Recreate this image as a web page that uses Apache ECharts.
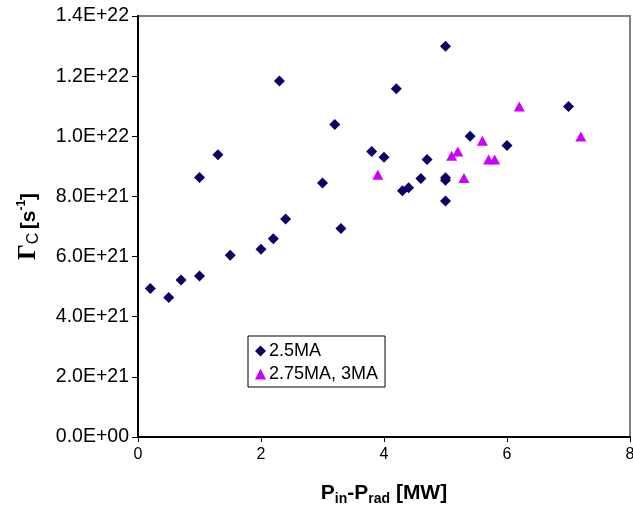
<!DOCTYPE html>
<html><head><meta charset="utf-8">
<script src="https://cdn.jsdelivr.net/npm/echarts@6/dist/echarts.min.js"></script>
<style>html,body{margin:0;padding:0;background:#fff}#c{width:633px;height:505px}</style>
</head><body><div id="c"></div>
<script>
// Series 1: 2.5MA
const s1X = [0.2, 0.5, 0.7, 1.0, 1.5, 2.0, 2.2, 2.4, 2.3, 1.0, 1.3, 3.0, 3.3, 3.2, 3.8, 4.0, 4.2, 5.0, 4.3, 4.4, 4.6, 4.7, 5.0, 5.0, 5.0, 5.4, 6.0, 7.0];
const s1Y = [4.94e21, 4.64e21, 5.22e21, 5.35e21, 6.04e21, 6.24e21, 6.59e21, 7.25e21, 11.84e21, 8.63e21, 9.39e21, 8.45e21, 6.93e21, 10.39e21, 9.49e21, 9.30e21, 11.58e21, 12.99e21, 8.19e21, 8.29e21, 8.60e21, 9.23e21, 8.62e21, 8.54e21, 7.85e21, 10.0e21, 9.69e21, 10.99e21];
// Series 2: 2.75MA, 3MA
const s2X = [3.9, 5.1, 5.2, 5.3, 5.6, 5.7, 5.8, 6.2, 7.2];
const s2Y = [8.72e21, 9.35e21, 9.49e21, 8.61e21, 9.85e21, 9.23e21, 9.23e21, 10.99e21, 9.99e21];
const seriesNames = ['2.5MA', '2.75MA, 3MA'];
const xTicks = [0, 2, 4, 6, 8];
const yMax = 1.4e22, yStep = 2e21;

function sci(v) {
  if (v === 0) return '0.0E+00';
  const e = Math.floor(Math.log10(Math.abs(v)) + 1e-9);
  const m = v / Math.pow(10, e);
  return m.toFixed(1) + 'E' + (e >= 0 ? '+' : '-') + String(Math.abs(e)).padStart(2, '0');
}
const zip = (a, b) => a.map((x, i) => [x, b[i]]);

const chart = echarts.init(document.getElementById('c'), null, {renderer: 'canvas'});
chart.setOption({
  animation: false,
  backgroundColor: '#fff',
  grid: {left: 138, top: 16, right: 3, bottom: 68, show: true, borderColor: '#808080', borderWidth: 2, backgroundColor: '#fff', containLabel: false, outerBoundsMode: 'none'},
  xAxis: {
    type: 'value', min: xTicks[0], max: xTicks[xTicks.length - 1], interval: 2,
    splitLine: {show: false},
    axisLine: {show: true, onZero: false, lineStyle: {color: '#000', width: 2}},
    axisTick: {show: true, inside: false, length: 5, lineStyle: {color: '#000', width: 1}},
    axisLabel: {color: '#000', fontSize: 16, fontFamily: 'Liberation Sans, Arial', margin: 10},
    name: '{b|P}{s|in}{b|-P}{s|rad}{b| [MW]}',
    nameLocation: 'middle', nameGap: 43,
    nameTextStyle: {
      rich: {
        b: {fontSize: 21, fontWeight: 'bold', fontFamily: 'Liberation Sans, Arial', color: '#000', lineHeight: 26, verticalAlign: 'middle'},
        s: {fontSize: 14, fontWeight: 'bold', fontFamily: 'Liberation Sans, Arial', color: '#000', lineHeight: 26, verticalAlign: 'bottom'}
      }
    }
  },
  yAxis: {
    type: 'value', min: 0, max: yMax, interval: yStep,
    splitLine: {show: false},
    axisLine: {show: true, onZero: false, lineStyle: {color: '#000', width: 2}},
    axisTick: {show: true, inside: false, length: 6, lineStyle: {color: '#000', width: 1}},
    axisLabel: {color: '#000', fontSize: 19.5, fontFamily: 'Liberation Sans, Arial', margin: 9, formatter: sci},
    name: '{g|Γ}{s|C} {b|[s}{p|-1}{b|]}',
    nameLocation: 'middle', nameRotate: 90, nameGap: 96,
    nameTextStyle: {
      rich: {
        g: {fontSize: 25, fontWeight: 'bold', fontFamily: 'Liberation Serif, Times New Roman', color: '#000', lineHeight: 26, verticalAlign: 'middle'},
        s: {fontSize: 16, fontFamily: 'Liberation Sans, Arial', color: '#000', lineHeight: 26, verticalAlign: 'bottom'},
        b: {fontSize: 21, fontWeight: 'bold', fontFamily: 'Liberation Sans, Arial', color: '#000', lineHeight: 26, verticalAlign: 'middle'},
        p: {fontSize: 12, fontWeight: 'bold', fontFamily: 'Liberation Sans, Arial', color: '#000', lineHeight: 26, verticalAlign: 'top'}
      }
    }
  },
  legend: {
    left: 248, top: 336, orient: 'vertical',
    padding: [6, 7, 4, 7], itemGap: 5, itemWidth: 11, itemHeight: 11,
    borderColor: '#000', borderWidth: 1, backgroundColor: '#fff',
    textStyle: {fontSize: 18, color: '#000', fontFamily: 'Liberation Sans, Arial', padding: [0, 0, 0, -2]},
    data: [{name: seriesNames[0], icon: 'diamond'}, {name: seriesNames[1], icon: 'triangle'}]
  },
  series: [
    {name: seriesNames[0], type: 'scatter', symbol: 'diamond', symbolSize: 11,
     itemStyle: {color: '#0a0066', opacity: 1}, data: zip(s1X, s1Y)},
    {name: seriesNames[1], type: 'scatter', symbol: 'triangle', symbolSize: [11, 10],
     itemStyle: {color: '#CC00FF', opacity: 1}, data: zip(s2X, s2Y)}
  ]
});
</script></body></html>
